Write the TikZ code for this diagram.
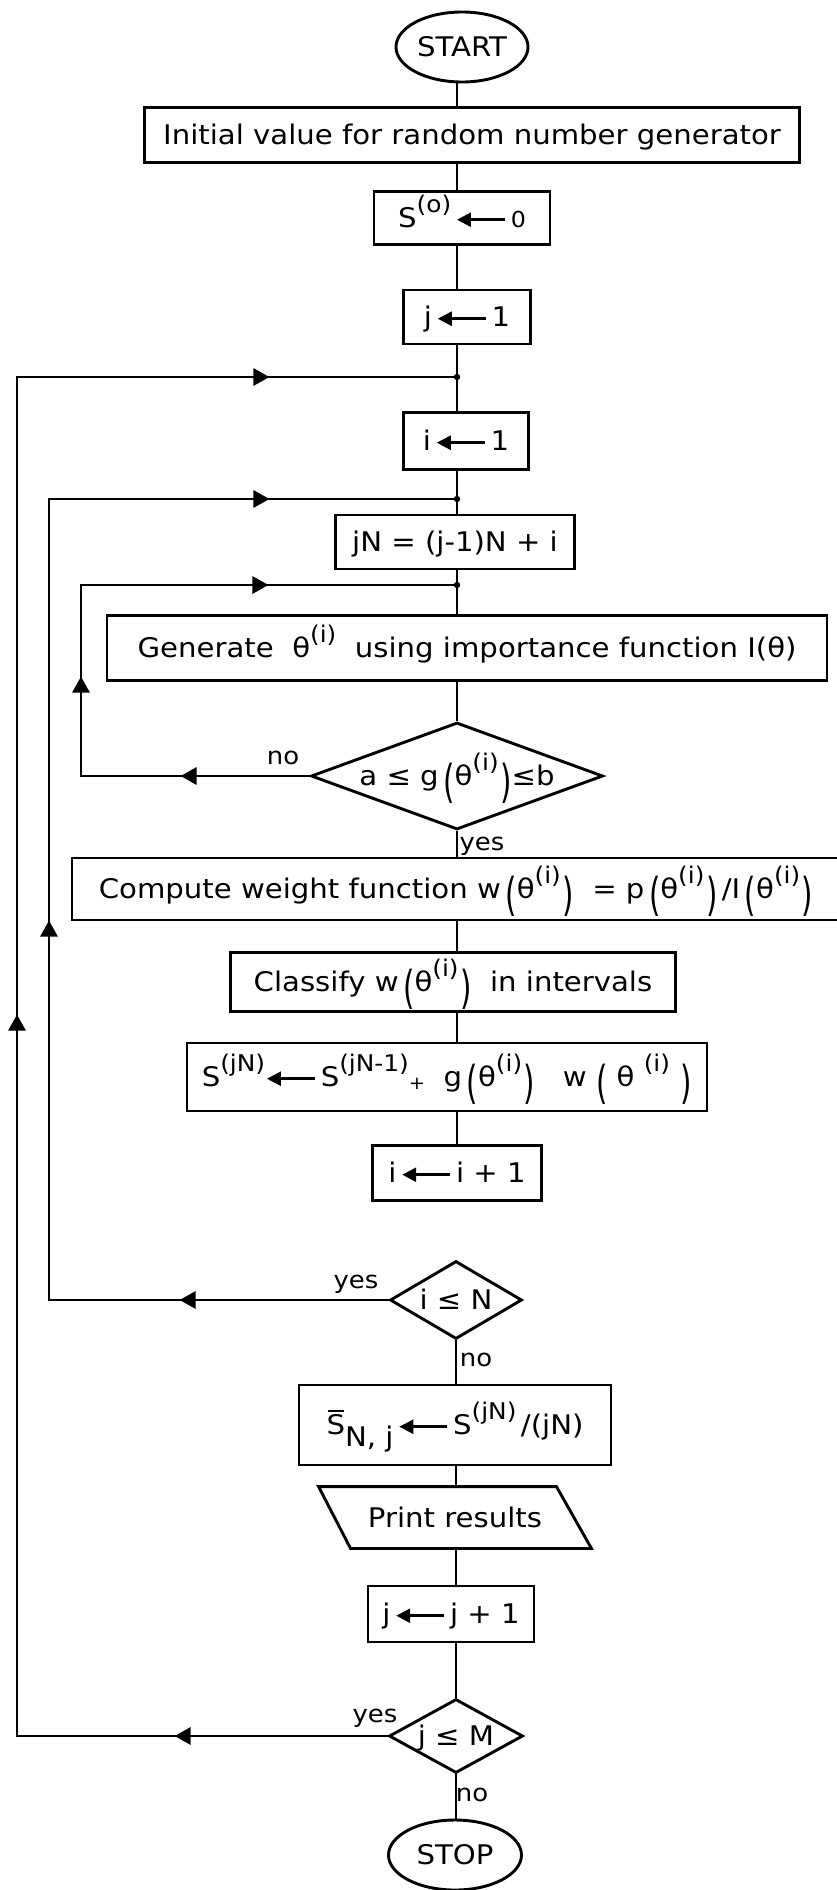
\documentclass[tikz,border=0pt]{standalone}
\usepackage{fontspec}
\setmainfont{DejaVu Sans}[FakeStretch=1.08]
\usepackage{graphicx}
\usetikzlibrary{shapes.geometric,arrows.meta,decorations.markings}
\newcommand{\supx}[1]{\raisebox{0.55em}{\fontsize{23}{23}\selectfont #1}}
\newcommand{\lpb}{\raisebox{-0.42em}{\scalebox{1}[1.68]{(}}}
\newcommand{\rpb}{\kern1.5pt\raisebox{-0.42em}{\scalebox{1}[1.68]{)}}}
\newcommand{\myarr}{\,\tikz[baseline=0pt,x=1pt,y=1pt]\draw[line width=2.6pt,-{Triangle[length=14pt,width=14pt]}] (48,8) -- (0,8);\,}
\newcommand{\ctr}[1]{\smash{\makebox[0pt]{\raisebox{-0.36em}{#1}}}}
\newcommand{\Sbar}{\makebox[0pt][l]{\kern0.05em\raisebox{0.86em}{\rule{0.58em}{1.8pt}}}S}
\tikzset{fcTri/.tip={Triangle[length=16pt,width=17pt]}}
\begin{document}
\begin{tikzpicture}[x=1pt,y=-1pt,line width=2.9pt,
  fcbox/.style={draw,rectangle,inner sep=0pt,font=\fontsize{27}{32}\selectfont},
  fcdia/.style={draw,diamond,inner sep=0pt,font=\fontsize{27}{32}\selectfont},
  fcterm/.style={draw,ellipse,inner sep=0pt,font=\fontsize{27}{32}\selectfont},
  lbl/.style={inner sep=0pt,font=\fontsize{24}{28}\selectfont},
  backarrows/.style n args={3}{postaction={decorate},decoration={markings,
     mark=at position #1 with {\arrow{fcTri}},
     mark=at position #2 with {\arrow{fcTri}},
     mark=at position #3 with {\arrow{fcTri}}}}]
\fill[white] (0,0) rectangle (837,1890);
\useasboundingbox (0,0) rectangle (837,1890);
\coordinate (spine) at (457,0);

\node[fcterm,minimum width=132pt,minimum height=70pt] (start) at (462,47) {\ctr{START}};
\node[fcbox,minimum width=655pt,minimum height=55pt] (init) at (472,135) {\ctr{Initial value for random number generator}};
\node[fcbox,minimum width=176pt,minimum height=53pt] (s0) at (462,218) {\ctr{S\supx{(o)}\myarr{\fontsize{22}{22}\selectfont 0}}};
\node[fcbox,minimum width=127pt,minimum height=54pt] (j1) at (467,317) {\ctr{j\myarr 1}};
\coordinate (J1) at (457,377);
\node[fcbox,minimum width=125pt,minimum height=57pt] (i1) at (466,441) {\ctr{i\myarr 1}};
\coordinate (J2) at (457,499);
\node[fcbox,minimum width=239pt,minimum height=54pt] (jn) at (455,542) {\ctr{jN = (j-1)N + i}};
\coordinate (J3) at (457,585);
\node[fcbox,minimum width=720pt,minimum height=65pt] (gen) at (467,648) {\ctr{Generate\ \ θ\supx{(i)}\ \ using importance function I(θ)}};
\node[fcdia,minimum width=292pt,minimum height=107pt] (dia1) at (457,776) {\ctr{a ≤ g\,\lpb θ\supx{(i)}\rpb≤b}};
\node[fcbox,minimum width=768pt,minimum height=62pt] (comp) at (456,889) {\ctr{Compute weight function w\,\lpb θ\supx{(i)}\rpb\ \ = p\,\lpb θ\supx{(i)}\rpb\,/I\,\lpb θ\supx{(i)}\rpb}};
\node[fcbox,minimum width=445pt,minimum height=59pt] (cls) at (453,982) {\ctr{Classify w\,\lpb θ\supx{(i)}\rpb\ \ in intervals}};
\node[fcbox,minimum width=520pt,minimum height=68pt] (sbx) at (447,1077) {\ctr{S\supx{(jN)}\kern-4pt\myarr S\supx{(jN-1)}\raisebox{-0.1em}{\fontsize{18}{18}\selectfont +}\ \ g\,\lpb θ\supx{(i)}\rpb\ \ \ w\ \lpb\ θ\ \supx{(i)}\ \rpb}};
\node[fcbox,minimum width=169pt,minimum height=55pt] (ii) at (457,1173) {\ctr{i\myarr i + 1}};
\node[fcdia,minimum width=132pt,minimum height=78pt] (dia2) at (456,1300) {\ctr{i ≤ N}};
\node[fcbox,minimum width=312pt,minimum height=80pt] (sbar) at (455,1425) {\ctr{\Sbar\raisebox{-0.45em}{N, j}\myarr S\supx{(jN)}\,/(jN)}};
\node[inner sep=0pt,minimum width=270pt,minimum height=59pt,font=\fontsize{27}{32}\selectfont] (prt) at (455,1517.5) {\ctr{Print results}};
\draw (prt.north west) -- ([xshift=-35pt]prt.north east) -- (prt.south east) -- ([xshift=32pt]prt.south west) -- cycle;
\node[fcbox,minimum width=166pt,minimum height=56pt] (jj) at (451,1614) {\ctr{j\myarr j + 1}};
\node[fcdia,minimum width=134pt,minimum height=74pt] (dia3) at (456,1736) {\ctr{j ≤ M}};
\node[fcterm,minimum width=133pt,minimum height=70pt] (stop) at (455,1855) {\ctr{STOP}};

% labels
\node[lbl] (no1) at (283,758) {no};
\node[lbl] (yes1) at (482,846) {yes};
\node[lbl] (yes2) at (356,1284) {yes};
\node[lbl] (no2) at (476,1360) {no};
\node[lbl] (yes3) at (375,1718) {yes};
\node[lbl] (no3) at (472,1795) {no};

% spine
\draw (start.south -| spine) -- (init.north -| spine);
\draw (init.south -| spine) -- (s0.north -| spine);
\draw (s0.south -| spine) -- (j1.north -| spine);
\draw (j1.south -| spine) -- (J1) -- (i1.north -| spine);
\draw (i1.south -| spine) -- (J2) -- (jn.north -| spine);
\draw (jn.south -| spine) -- (J3) -- (gen.north -| spine);
\draw (gen.south -| spine) -- (dia1.north);
\draw (dia1.south) -- (comp.north -| spine);
\draw (comp.south -| spine) -- (cls.north -| spine);
\draw (cls.south -| spine) -- (sbx.north -| spine);
\draw (sbx.south -| spine) -- (ii.north -| spine);
\draw (ii.south -| spine) -- (ii.south -| spine |- dia2.north);
\draw (dia2.south) -- (sbar.north -| dia2.south);
\draw (sbar.south -| dia2.south) -- (prt.north -| dia2.south);
\draw (prt.south -| dia2.south) -- (jj.north -| dia2.south);
\draw (jj.south -| dia2.south) -- (dia3.north);
\draw (dia3.south) -- (stop.north -| dia3.south);

% loops
\coordinate (C3) at (81,585);
\coordinate (C2) at (49,499);
\coordinate (C1) at (17,377);
\draw[backarrows={129pt}{328pt}{607pt}] (dia1.west) -| (C3) -- (J3);
\draw[backarrows={209pt}{719pt}{1361pt}] (dia2.west) -| (C2) -- (J2);
\draw[backarrows={213pt}{1092pt}{1982pt}] (dia3.west) -| (C1) -- (J1);
\fill (J1) circle[radius=3.2pt];
\fill (J2) circle[radius=3.2pt];
\fill (J3) circle[radius=3.2pt];
\end{tikzpicture}
\end{document}
